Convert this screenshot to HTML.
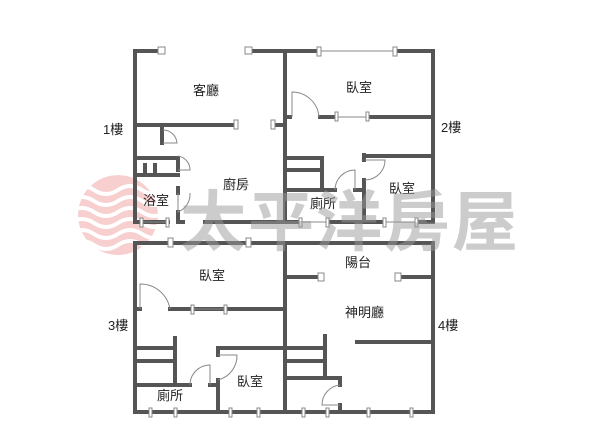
<!DOCTYPE html>
<html><head><meta charset="utf-8"><style>
html,body{margin:0;padding:0;background:#fff;width:600px;height:433px;overflow:hidden}
text{font-family:"Liberation Sans","Noto Sans CJK TC",sans-serif;font-size:13px;fill:#222}
</style></head><body>
<svg width="600" height="433" viewBox="0 0 600 433" xmlns="http://www.w3.org/2000/svg">
<defs><clipPath id="c"><circle cx="118" cy="215" r="40"/></clipPath></defs>
<g clip-path="url(#c)" opacity="0.6">
<circle cx="118" cy="215" r="40" fill="#f3b0b0"/>
<g fill="none" stroke="#fff" stroke-width="4">
<path d="M70 190 q12 -8 24 0 t24 0 t24 0 t24 0"/>
<path d="M70 201 q12 -8 24 0 t24 0 t24 0 t24 0"/>
<path d="M70 212 q12 -8 24 0 t24 0 t24 0 t24 0"/>
<path d="M70 223 q12 -8 24 0 t24 0 t24 0 t24 0"/>
<path d="M70 234 q12 -8 24 0 t24 0 t24 0 t24 0"/>
<path d="M70 245 q12 -8 24 0 t24 0 t24 0 t24 0"/>
</g></g>
<g stroke="#555" stroke-width="4" fill="none" stroke-linecap="square">
<path d="M160 51 H135 V222 H168"/>
<path d="M250 51 H318"/>
<path d="M396 51 H433 V222 H418"/>
<path d="M382 222 H330"/><path d="M300 222 H205"/><path d="M183 222 H178"/>
<path d="M285 51 V222"/>
<path d="M135 125 H235"/><path d="M275 125 H285"/>
<path d="M285 117 H290"/><path d="M320 117 H335"/><path d="M368 117 H433"/>
<path d="M162 125 V143"/>
<path d="M135 158 H178 V170"/><path d="M178 188 V193"/><path d="M178 212 V222"/>
<path d="M145 165 V175"/><path d="M155 165 V175"/>
<path d="M135 175 H178"/>
<path d="M285 158 H322 V190"/><path d="M285 170 H322"/>
<path d="M285 190 H335"/><path d="M355 190 H364"/>
<path d="M364 155 V160"/><path d="M364 180 V222"/>
<path d="M364 156 H433"/>
<path d="M135 243 H433 V412 H135 Z"/>
<path d="M285 243 V412"/>
<path d="M285 277 H318"/><path d="M400 277 H433"/>
<path d="M135 309 H140"/><path d="M170 309 H285"/>
<path d="M135 348 H175"/><path d="M135 361 H175"/><path d="M175 338 V385"/>
<path d="M135 385 H190"/><path d="M210 385 H218"/>
<path d="M218 348 V355"/><path d="M218 380 V412"/>
<path d="M218 348 H285"/>
<path d="M357 342 H433"/>
<path d="M325 336 V378"/>
<path d="M285 348 H325"/><path d="M285 361 H325"/>
<path d="M285 378 H340 V385"/><path d="M340 405 V412"/>
</g>
<g stroke="#888" stroke-width="1" fill="#fff">
<line x1="318" y1="51" x2="396" y2="51"/>
<line x1="335" y1="117" x2="368" y2="117"/>
<line x1="141" y1="222" x2="168" y2="222"/>
<line x1="382" y1="222" x2="418" y2="222"/>
<line x1="300" y1="222" x2="330" y2="222"/>
<line x1="192" y1="309" x2="225" y2="309"/>
<rect x="158" y="47" width="7" height="7"/><rect x="245" y="47" width="7" height="7"/>
<rect x="317" y="47" width="4" height="9"/><rect x="393" y="47" width="4" height="9"/>
<rect x="234" y="120" width="4" height="9"/><rect x="271" y="120" width="4" height="9"/>
<rect x="335" y="112" width="3" height="9"/><rect x="366" y="112" width="3" height="9"/>
<rect x="140" y="218" width="3" height="9"/><rect x="166" y="218" width="3" height="9"/>
<rect x="299" y="218" width="3" height="9"/><rect x="326" y="218" width="3" height="9"/>
<rect x="383" y="218" width="3" height="9"/><rect x="415" y="218" width="3" height="9"/>
<rect x="168" y="238" width="5" height="9"/><rect x="246" y="238" width="5" height="9"/>
<rect x="318" y="273" width="6" height="8"/><rect x="395" y="273" width="6" height="8"/>
<rect x="191" y="305" width="3" height="9"/><rect x="224" y="305" width="3" height="9"/>
<rect x="149" y="408" width="3" height="9"/><rect x="174" y="408" width="3" height="9"/>
<rect x="229" y="408" width="3" height="9"/><rect x="257" y="408" width="3" height="9"/>
<rect x="302" y="408" width="3" height="9"/><rect x="326" y="408" width="3" height="9"/>
<rect x="367" y="408" width="3" height="9"/><rect x="410" y="408" width="3" height="9"/>
</g>
<g stroke="#888" stroke-width="1" fill="none">
<path d="M292 117 V92 A27 27 0 0 1 319 117"/>
<path d="M163 143 H177 A14 14 0 0 0 163 130"/>
<path d="M178 170 H190 A14 14 0 0 0 178 156"/>
<path d="M178 193 V212 A19 19 0 0 0 190 193"/>
<path d="M335 190 A20 20 0 0 1 355 170 V190"/>
<path d="M365 160 H385 A20 20 0 0 1 365 180"/>
<path d="M140 309 V284 A30 30 0 0 1 170 309"/>
<path d="M190 385 A20 20 0 0 1 210 365 V385"/>
<path d="M218 355 H237 A25 25 0 0 1 218 380"/>
<path d="M340 385 A20 20 0 0 0 322 405 H340"/>
</g>
<text x="193" y="95">客廳</text><text x="346" y="92">臥室</text>
<text x="103" y="134">1樓</text><text x="441" y="132">2樓</text>
<text x="223" y="189">廚房</text><text x="143" y="205">浴室</text>
<text x="310" y="208">廁所</text><text x="389" y="193">臥室</text>
<text x="199" y="280">臥室</text><text x="345" y="267">陽台</text>
<text x="345" y="317">神明廳</text><text x="108" y="330">3樓</text>
<text x="438" y="330">4樓</text><text x="157" y="400">廁所</text>
<text x="237" y="386">臥室</text>
<text x="180" y="245" style="font-size:66px;font-weight:bold;fill:#9a9a9a;opacity:0.5;font-family:'Noto Sans CJK TC',sans-serif;letter-spacing:2px">太平洋房屋</text>
</svg>
</body></html>
